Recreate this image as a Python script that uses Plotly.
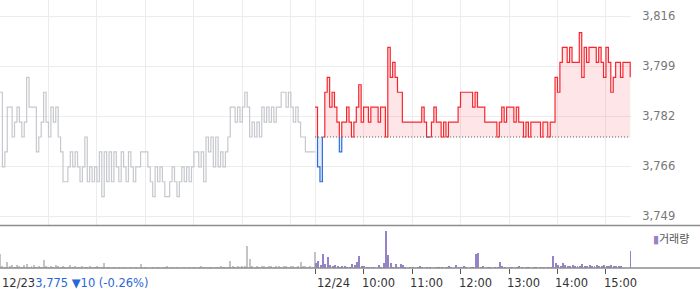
import plotly.graph_objects as go

# ---------------- data ----------------
STEP_MIN = 3          # sampling interval (minutes)
SESSION_MIN = 390     # 09:00 - 15:30
prev_close = 3775

day1_price = [
    3790, 3765, 3770, 3785, 3785, 3775, 3780, 3785, 3780, 3775,
    3780, 3795, 3785, 3785, 3785, 3770, 3775, 3780, 3790, 3780,
    3775, 3785, 3780, 3785, 3775, 3770, 3760, 3760, 3765, 3770,
    3765, 3770, 3765, 3760, 3765, 3775, 3760, 3765, 3760, 3765,
    3760, 3770, 3755, 3770, 3760, 3770, 3760, 3770, 3765, 3760,
    3770, 3765, 3760, 3770, 3765, 3760, 3765, 3765, 3770, 3770,
    3770, 3765, 3760, 3755, 3765, 3760, 3765, 3760, 3755, 3755,
    3760, 3765, 3760, 3755, 3760, 3765, 3760, 3765, 3760, 3765,
    3770, 3770, 3765, 3770, 3760, 3775, 3770, 3775, 3765, 3775,
    3765, 3770, 3765, 3770, 3775, 3785, 3785, 3780, 3785, 3780,
    3785, 3790, 3785, 3775, 3780, 3775, 3780, 3775, 3785, 3780,
    3785, 3780, 3785, 3780, 3785, 3785, 3790, 3790, 3785, 3790,
    3785, 3780, 3785, 3780, 3775, 3775, 3770, 3770, 3770, 3770,
    3770,
]

day2_price = [
    3785, 3765, 3760, 3775, 3790, 3795, 3785, 3790, 3785, 3780,
    3770, 3780, 3780, 3785, 3780, 3775, 3780, 3785, 3792.5, 3780,
    3785, 3785, 3780, 3785, 3785, 3785, 3780, 3785, 3785, 3775,
    3805, 3795, 3800, 3795, 3790, 3790, 3780, 3780, 3780, 3780,
    3780, 3780, 3780, 3780, 3785, 3780, 3775, 3775, 3780, 3785,
    3780, 3780, 3775, 3780, 3775, 3780, 3780, 3780, 3780, 3785,
    3790, 3790, 3790, 3790, 3790, 3785, 3790, 3785, 3785, 3785,
    3780, 3780, 3780, 3780, 3780, 3775, 3780, 3785, 3780, 3785,
    3785, 3785, 3780, 3785, 3780, 3780, 3775, 3780, 3775, 3780,
    3780, 3780, 3780, 3775, 3780, 3780, 3775, 3780, 3780, 3795,
    3790, 3800, 3805, 3805, 3800, 3805, 3800, 3800, 3800, 3810,
    3795, 3805, 3800, 3805, 3805, 3805, 3800, 3805, 3800, 3795,
    3805, 3800, 3790, 3795, 3800, 3800, 3795, 3800, 3800, 3800,
    3795,
]

# volume (thousand shares)
day1_volume = [
    14, 2, 1, 6, 2, 3, 1, 3, 2, 1,
    3, 4, 1, 2, 3, 1, 2, 1, 8, 2,
    1, 2, 1, 3, 2, 1, 2, 1, 1, 3,
    1, 2, 1, 1, 2, 1, 1, 2, 1, 1,
    2, 1, 1, 5, 1, 1, 0, 1, 0, 1,
    0, 1, 0, 0, 1, 0, 1, 0, 4, 0,
    1, 0, 0, 1, 0, 1, 0, 0, 1, 2,
    0, 1, 0, 1, 0, 0, 1, 0, 1, 0,
    1, 0, 1, 2, 1, 0, 1, 1, 0, 1,
    1, 2, 1, 1, 1, 7, 2, 1, 2, 1,
    2, 2, 22, 9, 2, 1, 2, 1, 2, 2,
    1, 2, 2, 1, 2, 2, 1, 2, 2, 1,
    2, 2, 1, 2, 6, 2, 2, 1, 2, 1,
    16,
]

day2_volume = [
    5, 7, 3, 14, 4, 11, 3, 2, 3, 2,
    1, 2, 2, 1, 1, 4, 3, 6, 12, 2,
    2, 1, 1, 1, 1, 0, 3, 1, 5, 37,
    13, 5, 1, 4, 1, 4, 3, 1, 0, 1,
    1, 0, 1, 2, 1, 0, 1, 1, 0, 1,
    1, 1, 1, 0, 1, 2, 1, 0, 3, 1,
    1, 2, 1, 0, 1, 1, 14, 15, 1, 2,
    0, 1, 1, 0, 1, 1, 6, 2, 1, 0,
    1, 1, 0, 1, 2, 1, 0, 1, 1, 0,
    1, 1, 0, 1, 1, 0, 1, 1, 12, 5,
    3, 2, 5, 3, 2, 2, 3, 2, 2, 2,
    4, 2, 2, 3, 2, 2, 3, 2, 2, 3,
    2, 2, 3, 2, 2, 2, 2, 0, 0, 0,
    17,
]

price_ticks = [3748.5, 3765.25, 3782.0, 3798.75, 3815.5]
price_tick_text = ["3,749", "3,766", "3,782", "3,799", "3,816"]
day_labels = ["12/23", "12/24"]
hour_labels = ["10:00", "11:00", "12:00", "13:00", "14:00", "15:00"]
last_text = "3,775 ▼10 (-0.26%)"
volume_name = "거래량"

# ---------------- derived ----------------
t1 = [i * STEP_MIN for i in range(len(day1_price))]
t2 = [SESSION_MIN + i * STEP_MIN for i in range(len(day2_price))]
vx1 = [i * STEP_MIN for i in range(len(day1_volume))]
vx2 = [SESSION_MIN + 0.8 + i * STEP_MIN for i in range(len(day2_volume))]
hour_pos_day1 = [60 * (h + 1) for h in range(6)]
hour_pos_day2 = [SESSION_MIN + 60 * (h + 1) for h in range(6)]


def with_crossings_hv(xs, ys, base):
    """For a step (hv) line: insert a point at the baseline on each vertical jump that crosses it."""
    X, Y = [xs[0]], [ys[0]]
    for y0, x1, y1 in zip(ys, xs[1:], ys[1:]):
        if (y0 - base) * (y1 - base) < 0:
            X.append(x1)
            Y.append(base)
        X.append(x1)
        Y.append(y1)
    return X, Y


X2, Y2 = with_crossings_hv(t2, day2_price, prev_close)
up_fill = [max(y, prev_close) for y in Y2]
dn_fill = [min(y, prev_close) for y in Y2]
up_line = [y if y >= prev_close else None for y in Y2]
dn_line = [y if y <= prev_close else None for y in Y2]
base_arr = [prev_close] * len(X2)

RED = "#f7262e"
BLUE = "#2c6ed5"
GRID = "#ececec"
FONT = "DejaVu Sans"
LW = 1.2

fig = go.Figure()
# fills
fig.add_trace(go.Scatter(x=X2, y=base_arr, mode="lines", line=dict(width=0), hoverinfo="skip"))
fig.add_trace(go.Scatter(x=X2, y=up_fill, mode="lines", line=dict(width=0, shape="hv"),
                         fill="tonexty", fillcolor="rgba(245,60,75,0.13)", hoverinfo="skip"))
fig.add_trace(go.Scatter(x=X2, y=base_arr, mode="lines", line=dict(width=0), hoverinfo="skip"))
fig.add_trace(go.Scatter(x=X2, y=dn_fill, mode="lines", line=dict(width=0, shape="hv"),
                         fill="tonexty", fillcolor="rgba(45,110,215,0.13)", hoverinfo="skip"))
# previous-close dotted line
fig.add_trace(go.Scatter(x=[t2[0], t2[-1]], y=[prev_close, prev_close], mode="lines",
                         line=dict(color="#555555", width=1, dash="1px,2px")))
# price lines
fig.add_trace(go.Scatter(x=t1, y=day1_price, mode="lines",
                         line=dict(color="#c6c8cd", width=LW, shape="hv")))
fig.add_trace(go.Scatter(x=X2, y=up_line, mode="lines", connectgaps=False,
                         line=dict(color=RED, width=LW, shape="hv")))
fig.add_trace(go.Scatter(x=X2, y=dn_line, mode="lines", connectgaps=False,
                         line=dict(color=BLUE, width=LW, shape="hv")))
# volume
fig.add_trace(go.Bar(x=vx1, y=day1_volume, width=1.2, marker=dict(color="#c4c4c4", line=dict(width=0)),
                     xaxis="x2", yaxis="y2"))
fig.add_trace(go.Bar(x=vx2, y=day2_volume, width=1.2, marker=dict(color="#9582c9", line=dict(width=0)),
                     xaxis="x2", yaxis="y2"))

# ---------------- layout ----------------
W, H = 700, 289
B = 21
plot_h = H - B
x_dom_end = 631 / W
main_bottom = (plot_h - 225.5) / plot_h
vol_top = (plot_h - 226) / plot_h
x_range = [0, 781]

fig.update_layout(
    width=W, height=H,
    margin=dict(l=0, r=0, t=0, b=B, autoexpand=False),
    paper_bgcolor="white", plot_bgcolor="white",
    showlegend=False, barmode="overlay",
    xaxis=dict(domain=[0, x_dom_end], range=x_range, anchor="y",
               tickvals=[0] + hour_pos_day1 + [SESSION_MIN] + hour_pos_day2,
               showticklabels=False, ticks="", showgrid=True, gridcolor=GRID, gridwidth=1,
               zeroline=False, showline=False),
    yaxis=dict(domain=[main_bottom, 1], range=[3745.35, 3820.9], anchor="x", side="right",
               tickvals=price_ticks, ticktext=price_tick_text,
               tickfont=dict(family=FONT, size=11.5, color="#777777"),
               ticks="outside", ticklen=8, tickcolor="rgba(0,0,0,0)",
               showgrid=True, gridcolor=GRID, gridwidth=1, zeroline=False, showline=False),
    xaxis2=dict(domain=[0, x_dom_end], range=x_range, anchor="y2", matches="x",
                tickvals=[SESSION_MIN] + hour_pos_day2, showticklabels=False,
                ticks="outside", ticklen=5, tickwidth=1, tickcolor="#555555",
                showgrid=False, zeroline=False, showline=False),
    yaxis2=dict(domain=[0, vol_top], range=[0, 42], anchor="x2", visible=False),
)

# separator lines spanning full width
fig.add_shape(type="line", xref="paper", yref="paper", x0=0, x1=1, y0=main_bottom, y1=main_bottom,
              line=dict(color="#8c8c8c", width=1.5))
fig.add_shape(type="line", xref="paper", yref="paper", x0=0, x1=1, y0=0, y1=0,
              line=dict(color="#8c8c8c", width=1.5))

# x labels
lab_font = dict(family=FONT, size=11.5, color="#333333")
fig.add_annotation(x=0, xref="x", y=0, yref="paper", xanchor="left", yanchor="top", yshift=-6,
                   showarrow=False, font=lab_font,
                   text=day_labels[0] + "<span style='color:#2867d6'>" + last_text + "</span>")
fig.add_annotation(x=SESSION_MIN, xref="x", y=0, yref="paper", xanchor="left", yanchor="top",
                   yshift=-6, showarrow=False, font=lab_font, text=day_labels[1])
for pos, lab in zip(hour_pos_day2, hour_labels):
    fig.add_annotation(x=pos, xref="x", y=0, yref="paper", xanchor="left", yanchor="top",
                       xshift=-4, yshift=-6, showarrow=False, font=lab_font, text=lab)

# volume legend
fig.add_annotation(x=651 / W, xref="paper", y=(plot_h - 238) / plot_h, yref="paper",
                   xanchor="left", yanchor="middle", showarrow=False,
                   font=dict(family="Noto Sans CJK KR", size=11, color="#555555"),
                   text="<span style='color:#9582c9'>▮</span>" + volume_name)

fig.write_html("out.html")
